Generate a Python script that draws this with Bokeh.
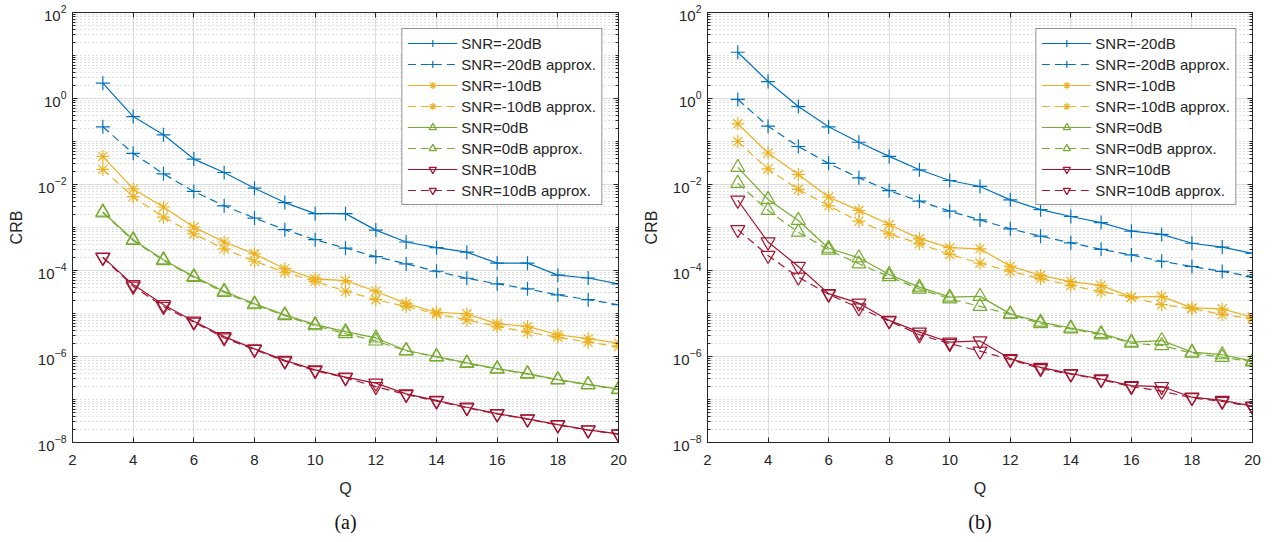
from bokeh.plotting import figure
from bokeh.layouts import row
from bokeh.models import (FixedTicker, LogAxis, LinearAxis, Legend, LegendItem,
                          Title, CustomJSTickFormatter)
from bokeh.embed import file_html
from bokeh.resources import INLINE

# ---- data -------------------------------------------------------------
Q = list(range(3, 21))

# panel (a)
a_m20 = [2.27, 0.38, 0.143, 0.039, 0.019, 0.0082, 0.0038, 0.0021, 0.0021, 8.7e-4,
         4.6e-4, 3.4e-4, 2.67e-4, 1.48e-4, 1.48e-4, 7.8e-5, 6.7e-5, 4.9e-5]
a_m20_apx = [0.22, 0.053, 0.0177, 0.0069, 0.0032, 0.00166, 8.9e-4, 5.2e-4, 3.3e-4, 2.1e-4,
             1.43e-4, 9.6e-5, 6.6e-5, 4.9e-5, 3.75e-5, 2.7e-5, 2.1e-5, 1.6e-5]
a_m10 = [0.045, 0.0079, 0.003, 1.02e-3, 4.6e-4, 2.44e-4, 1.1e-4, 6.4e-5, 5.8e-5, 3.3e-5,
         1.7e-5, 1.07e-5, 9.8e-6, 5.75e-6, 5.0e-6, 3.2e-6, 2.6e-6, 2.04e-6]
a_m10_apx = [0.0224, 0.0052, 0.00174, 7.1e-4, 3.2e-4, 1.64e-4, 9.1e-5, 5.6e-5, 3.3e-5, 2.1e-5,
             1.46e-5, 9.8e-6, 7.1e-6, 5.0e-6, 3.7e-6, 2.8e-6, 2.15e-6, 1.7e-6]
a_0 = [2.3e-3, 5.2e-4, 1.78e-4, 7.2e-5, 3.3e-5, 1.68e-5, 9.3e-6, 5.5e-6, 3.8e-6, 2.7e-6,
       1.38e-6, 1.0e-6, 7.1e-7, 5.2e-7, 4.0e-7, 2.9e-7, 2.24e-7, 1.74e-7]
a_0_apx = [2.2e-3, 5.0e-4, 1.7e-4, 6.9e-5, 3.1e-5, 1.6e-5, 8.9e-6, 5.2e-6, 3.4e-6, 2.3e-6,
           1.35e-6, 9.8e-7, 6.9e-7, 5.1e-7, 3.9e-7, 2.85e-7, 2.2e-7, 1.7e-7]
a_10 = [2.05e-4, 4.7e-5, 1.6e-5, 6.6e-6, 2.9e-6, 1.5e-6, 8.1e-7, 4.9e-7, 3.3e-7, 2.4e-7,
        1.35e-7, 9.5e-8, 6.6e-8, 4.7e-8, 3.55e-8, 2.6e-8, 1.97e-8, 1.58e-8]
a_10_apx = [2.0e-4, 4.3e-5, 1.45e-5, 6.3e-6, 2.7e-6, 1.45e-6, 7.8e-7, 4.7e-7, 3.2e-7, 2.0e-7,
            1.3e-7, 9.2e-8, 6.4e-8, 4.6e-8, 3.5e-8, 2.55e-8, 1.95e-8, 1.55e-8]

# panel (b)
b_m20 = [11.9, 2.48, 0.65, 0.22, 0.096, 0.045, 0.022, 0.0124, 0.009, 0.0044,
         0.0026, 0.0018, 0.0013, 8.2e-4, 6.9e-4, 4.3e-4, 3.5e-4, 2.5e-4]
b_m20_apx = [0.95, 0.227, 0.0766, 0.031, 0.0143, 0.0072, 0.0041, 0.0024, 0.0015, 9.3e-4,
             6.3e-4, 4.4e-4, 3.1e-4, 2.3e-4, 1.64e-4, 1.24e-4, 9.5e-5, 7.2e-5]
b_m10 = [0.258, 0.054, 0.017, 0.0051, 0.0025, 0.00117, 5.5e-4, 3.4e-4, 3.2e-4, 1.26e-4,
         7.7e-5, 5.5e-5, 4.5e-5, 2.4e-5, 2.5e-5, 1.35e-5, 1.28e-5, 8.2e-6]
b_m10_apx = [0.1, 0.023, 0.0077, 0.0032, 0.0014, 7.1e-4, 4.2e-4, 2.36e-4, 1.48e-4, 9.6e-5,
             6.5e-5, 4.5e-5, 3.2e-5, 2.4e-5, 1.6e-5, 1.3e-5, 9.5e-6, 7.6e-6]
b_0 = [0.025, 0.0045, 0.00146, 3.3e-4, 1.97e-4, 8.1e-5, 4.1e-5, 2.4e-5, 2.5e-5, 9.8e-6,
       6.3e-6, 4.6e-6, 3.4e-6, 2.15e-6, 2.35e-6, 1.26e-6, 1.1e-6, 7.8e-7]
b_0_apx = [0.0107, 0.0025, 7.8e-4, 3.0e-4, 1.43e-4, 7.2e-5, 3.7e-5, 2.2e-5, 1.46e-5, 9.5e-6,
           5.8e-6, 4.4e-6, 3.2e-6, 2.05e-6, 1.8e-6, 1.2e-6, 9.6e-7, 7.5e-7]
b_10 = [0.0043, 4.6e-4, 1.24e-4, 2.9e-5, 1.74e-5, 6.9e-6, 3.7e-6, 2.15e-6, 2.3e-6, 8.9e-7,
        5.6e-7, 4.0e-7, 3.0e-7, 2.1e-7, 2.0e-7, 1.13e-7, 9.5e-8, 7.0e-8]
b_10_apx = [8.9e-4, 2.24e-4, 7.0e-5, 2.8e-5, 1.35e-5, 6.7e-6, 3.2e-6, 2.0e-6, 1.33e-6, 8.5e-7,
            5.2e-7, 3.9e-7, 2.9e-7, 2.0e-7, 1.56e-7, 1.1e-7, 9.0e-8, 6.8e-8]

labels = ["SNR=-20dB", "SNR=-20dB approx.", "SNR=-10dB", "SNR=-10dB approx.",
          "SNR=0dB", "SNR=0dB approx.", "SNR=10dB", "SNR=10dB approx."]
colors = ["#0072BD", "#EDB120", "#77AC30", "#A2142F"]
markers = ["cross", "asterisk", "triangle", "inverted_triangle"]
marker_sizes = [14, 13, 14, 14]

x_ticks = [2, 4, 6, 8, 10, 12, 14, 16, 18, 20]
y_ticks = [1e-8, 1e-6, 1e-4, 1e-2, 1e0, 1e2]

# ---- styling ----------------------------------------------------------
AX = "#262626"
FONT = "Liberation Sans"
y_minor = [m * 10.0 ** k for k in range(-8, 2) for m in range(2, 11)
           if not (m == 10 and (k + 1) % 2 == 0)]


def make_panel(series, caption, width, border_left, border_right):
    p = figure(width=width, height=542, y_axis_type="log",
               x_range=(2, 20), y_range=(1e-8, 1e2),
               output_backend="svg", toolbar_location=None,
               min_border_left=border_left, min_border_right=border_right,
               min_border_top=12, min_border_bottom=100)
    p.background_fill_color = "white"
    p.border_fill_color = "white"
    p.outline_line_color = AX
    p.outline_line_width = 1

    xt = FixedTicker(ticks=x_ticks, minor_ticks=[])
    yt = FixedTicker(ticks=y_ticks, minor_ticks=y_minor)
    p.xaxis.ticker = xt
    p.yaxis.ticker = yt

    for ax in (p.xaxis[0], p.yaxis[0]):
        ax.axis_line_color = AX
        ax.major_tick_line_color = AX
        ax.minor_tick_line_color = AX
        ax.major_tick_in = 5
        ax.major_tick_out = 0
        ax.minor_tick_in = 3
        ax.minor_tick_out = 0
        ax.major_label_text_font = FONT
        ax.major_label_text_font_size = "15px"
        ax.major_label_text_color = AX
        ax.axis_label_text_font = FONT
        ax.axis_label_text_font_size = "16px"
        ax.axis_label_text_font_style = "normal"
        ax.axis_label_text_color = AX
    p.xaxis.axis_label = "Q"
    p.yaxis.axis_label = "CRB"
    p.xaxis.major_label_standoff = 12
    p.yaxis.major_label_standoff = 6
    p.xaxis.axis_label_standoff = 12
    p.yaxis.axis_label_standoff = 10

    blank = CustomJSTickFormatter(code="return ''")
    right = LogAxis(ticker=yt, formatter=blank, axis_line_color=AX,
                    major_tick_line_color=AX, minor_tick_line_color=AX,
                    major_tick_in=5, major_tick_out=0, minor_tick_in=3, minor_tick_out=0,
                    major_label_standoff=0)
    top = LinearAxis(ticker=xt, formatter=blank, axis_line_color=AX,
                     major_tick_line_color=AX, major_tick_in=5, major_tick_out=0,
                     minor_tick_in=0, minor_tick_out=0, major_label_standoff=0)
    p.add_layout(right, "right")
    p.add_layout(top, "above")

    p.xgrid.grid_line_color = "#dcdcdc"
    p.ygrid.grid_line_color = "#dcdcdc"
    p.ygrid.minor_grid_line_color = "#bdbdbd"
    p.ygrid.minor_grid_line_dash = "1 3"

    items = []
    for i, ys in enumerate(series):
        c = colors[i // 2]
        dash = "solid" if i % 2 == 0 else "8 5"
        ln = p.line(Q, ys, line_color=c, line_width=1.2, line_dash=dash)
        sc = p.scatter(Q, ys, marker=markers[i // 2], size=marker_sizes[i // 2],
                       fill_color=None, line_color=c, line_width=1.2)
        items.append(LegendItem(label=labels[i], renderers=[ln, sc]))

    leg = Legend(items=items, location="top_right", margin=16, padding=5,
                 spacing=3, glyph_width=50, glyph_height=18, label_height=18,
                 label_standoff=4, label_text_font=FONT, label_text_font_size="15px",
                 label_text_color=AX, border_line_color=AX, border_line_width=1,
                 background_fill_color="white", background_fill_alpha=1.0)
    p.add_layout(leg)

    cap = Title(text=caption, align="center", text_font="Liberation Serif",
                text_font_size="20px", text_font_style="normal", text_color="#111111",
                standoff=18)
    p.add_layout(cap, "below")
    return p


pa = make_panel([a_m20, a_m20_apx, a_m10, a_m10_apx, a_0, a_0_apx, a_10, a_10_apx],
                "(a)", 639, 72, 21)
pb = make_panel([b_m20, b_m20_apx, b_m10, b_m10_apx, b_0, b_0_apx, b_10, b_10_apx],
                "(b)", 639, 68, 26)

layout = row(pa, pb)
open("out.html", "w").write(file_html(layout, INLINE))
